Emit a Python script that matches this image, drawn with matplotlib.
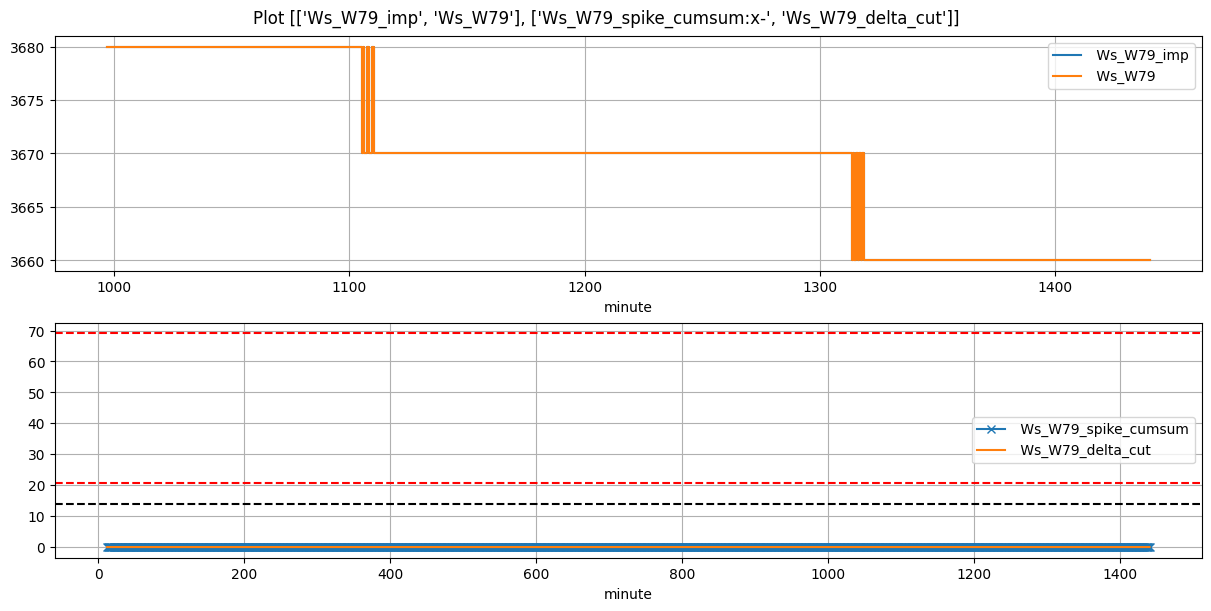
import numpy as np
import matplotlib
matplotlib.use("Agg")
import matplotlib.pyplot as plt

# ---- data ----
# top panel: Ws_W79 level changes (minute -> new value, step-wise)
change_minutes = [997.0, 1105.5, 1105.9, 1106.2, 1107.6, 1108.2, 1109.7, 1110.3,
                  1313.5, 1314.0, 1314.5, 1315.3, 1316.0, 1316.6, 1317.3, 1317.8, 1318.5, 1440.0]
change_values  = [3680, 3670, 3680, 3670, 3680, 3670, 3680, 3670,
                  3660, 3670, 3660, 3670, 3660, 3670, 3660, 3670, 3660, 3660]

# bottom panel
bottom_start, bottom_end = 12, 1440
spike_cumsum_value = 0.0
delta_cut_value = 0.0
red_lines = [69.1, 20.7]
black_lines = [14.0]

title = "Plot [['Ws_W79_imp', 'Ws_W79'], ['Ws_W79_spike_cumsum:x-', 'Ws_W79_delta_cut']]"

# ---- build series ----
minute_top = np.array(change_minutes)
ws = np.array(change_values, dtype=float)
ws_imp = ws.copy()

minute_bot = np.arange(bottom_start, bottom_end + 1)
spike = np.full(len(minute_bot), spike_cumsum_value)
delta = np.full(len(minute_bot), delta_cut_value)

fig, (ax1, ax2) = plt.subplots(2, 1, figsize=(12, 6), dpi=100, layout="constrained")
fig.suptitle(title, fontsize=12)

ax1.plot(minute_top, ws_imp, drawstyle="steps-post", label=" Ws_W79_imp")
ax1.plot(minute_top, ws, drawstyle="steps-post", label=" Ws_W79")
ax1.set_xlabel("minute")
ax1.grid(True)
ax1.legend(loc="upper right")

ax2.plot(minute_bot, spike, "x-", label=" Ws_W79_spike_cumsum")
ax2.plot(minute_bot, delta, label=" Ws_W79_delta_cut")
for y in red_lines:
    ax2.axhline(y, color="red", linestyle="--")
for y in black_lines:
    ax2.axhline(y, color="black", linestyle="--")
ax2.set_xlabel("minute")
ax2.grid(True)
ax2.legend(loc="center right")

fig.savefig("out.png", dpi=100, bbox_inches="tight")
